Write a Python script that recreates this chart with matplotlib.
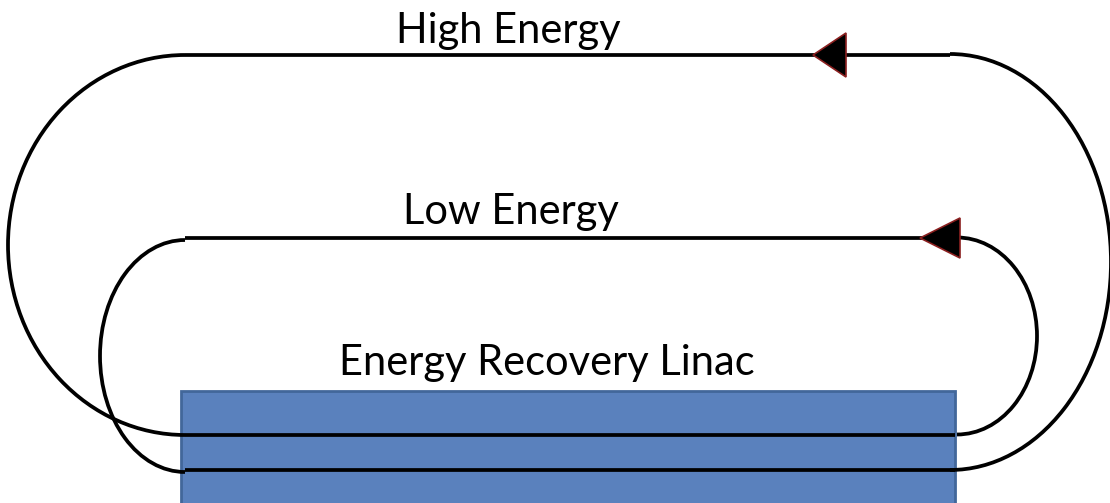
import matplotlib.pyplot as plt
from matplotlib.patches import Arc, Rectangle, Polygon

# pixel canvas
W, H = 1110, 503

# beam lines (y level, x start, x end)
line_y = [55, 238, 435, 470]
line_x0 = [185, 185, 185, 185]
line_x1 = [950, 960, 955, 955]

# turn arcs: centre x, centre y, width, height, side
arc_cx = [185, 185, 950, 957]
arc_cy = [245, 356, 262, 336]
arc_w = [354, 170, 322, 160]
arc_h = [380, 232, 416, 197]
arc_side = ['left', 'left', 'right', 'right']

# arrowheads: tip x, base x, y, half height
arrow_tip = [813, 920]
arrow_base = [846, 960]
arrow_y = [55, 238]
arrow_half = [22, 20]

# linac box
box = (181, 391, 774, 130)

labels = ['High Energy', 'Low Energy', 'Energy Recovery Linac']
label_x = [508, 511, 547]
label_y = [31, 212, 363]

fig = plt.figure(figsize=(W / 100, H / 100), dpi=100)
ax = fig.add_axes([0, 0, 1, 1])
ax.set_xlim(0, W)
ax.set_ylim(H, 0)
ax.axis('off')

ax.add_patch(Rectangle(box[:2], box[2], box[3], facecolor='#5a81bd',
                       edgecolor='#42679a', linewidth=2, zorder=1))

lw = 2.7
for y, x0, x1 in zip(line_y, line_x0, line_x1):
    ax.plot([x0, x1], [y, y], color='black', lw=lw, solid_capstyle='butt', zorder=2)

for cx, cy, w, h, side in zip(arc_cx, arc_cy, arc_w, arc_h, arc_side):
    t1, t2 = (90, 270) if side == 'left' else (-90, 90)
    ax.add_patch(Arc((cx, cy), w, h, theta1=t1, theta2=t2, color='black', lw=lw, zorder=2))

for tip, base, y, hh in zip(arrow_tip, arrow_base, arrow_y, arrow_half):
    ax.add_patch(Polygon([(tip, y), (base, y - hh), (base, y + hh)], closed=True,
                         facecolor='black', edgecolor='#8b2020', lw=1.2, zorder=3))

for txt, x, y in zip(labels, label_x, label_y):
    ax.text(x, y, txt, ha='center', va='center', fontsize=30, family='Lato', zorder=4)

fig.savefig('out.png', dpi=100)
